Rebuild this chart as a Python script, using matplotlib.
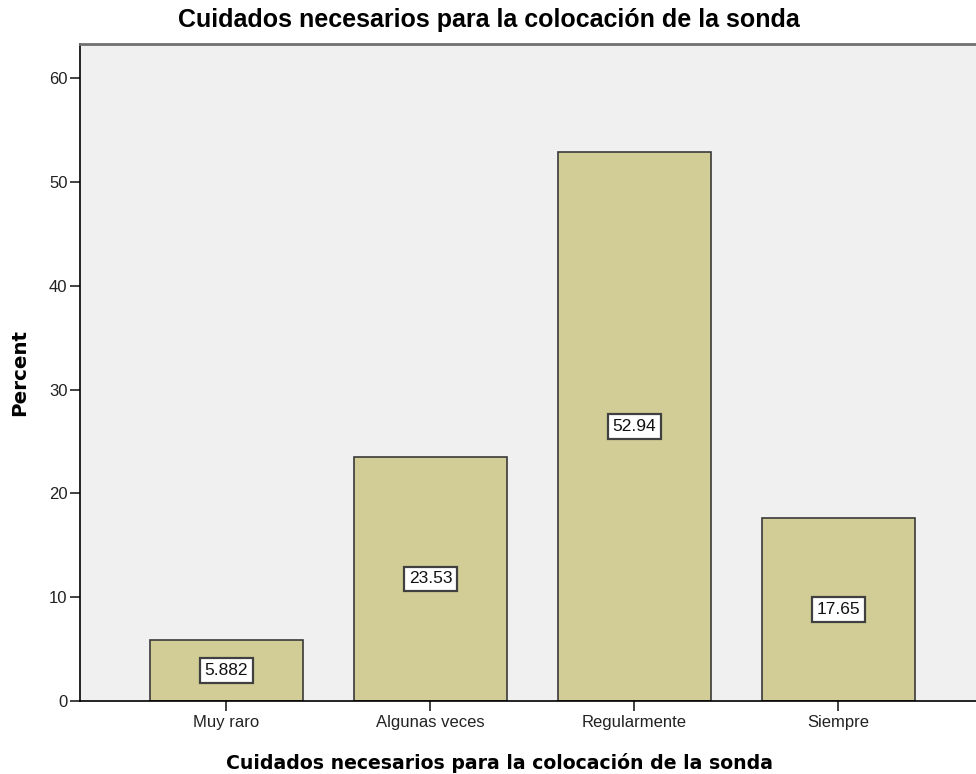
import matplotlib

matplotlib.use("Agg")
import matplotlib.pyplot as plt

plt.rcParams["font.family"] = ["Liberation Sans", "DejaVu Sans"]

categories = ["Muy raro", "Algunas veces", "Regularmente", "Siempre"]
percent = [5.882, 23.53, 52.94, 17.65]
labels = ["5.882", "23.53", "52.94", "17.65"]
yticks = [0, 10, 20, 30, 40, 50, 60]

titulo = "Cuidados necesarios para la colocación de la sonda"

W, H = 976, 774
fig = plt.figure(figsize=(W / 100, H / 100), dpi=100)
ax = fig.add_axes([80 / W, 73 / H, 896 / W, 657 / H])
ax.set_facecolor("#f0f0f0")

x = range(len(categories))
ax.bar(x, percent, width=0.75, color="#d2cd96", edgecolor="#3a3a3a", linewidth=1.2)

# etiquetas en el centro de cada barra
for i, (v, t) in enumerate(zip(percent, labels)):
    ax.text(i, v / 2, t, ha="center", va="center", fontsize=12.5, color="#111111",
            bbox=dict(boxstyle="square,pad=0.28", fc="white", ec="#404040", lw=1.6))

ax.set_xlim(-0.718, 3.674)
ax.set_ylim(0, 63.3)
ax.set_xticks(list(x))
ax.set_xticklabels(categories, fontsize=12)
ax.set_yticks(yticks)
ax.tick_params(axis="y", labelsize=12, length=7, width=1.2, pad=2, colors="#222222")
ax.tick_params(axis="x", length=7, width=1.2, pad=3, colors="#222222")

ax.spines["left"].set_color("black")
ax.spines["left"].set_linewidth(1.2)
ax.spines["bottom"].set_color("black")
ax.spines["bottom"].set_linewidth(1.2)
ax.spines["top"].set_color("#707070")
ax.spines["top"].set_linewidth(2)
ax.spines["right"].set_visible(False)

fig.text(489 / W, 1 - 20 / H, titulo, ha="center", va="center",
         fontsize=18, fontweight="bold")
fig.text(500 / W, 1 - 763 / H, titulo, ha="center", va="center",
         fontsize=13.6, fontweight="bold", family="DejaVu Sans")
fig.text(20 / W, 1 - 373 / H, "Percent", ha="center", va="center", rotation=90,
         fontsize=14.3, fontweight="bold", family="DejaVu Sans")

fig.savefig("out.png", dpi=100)
